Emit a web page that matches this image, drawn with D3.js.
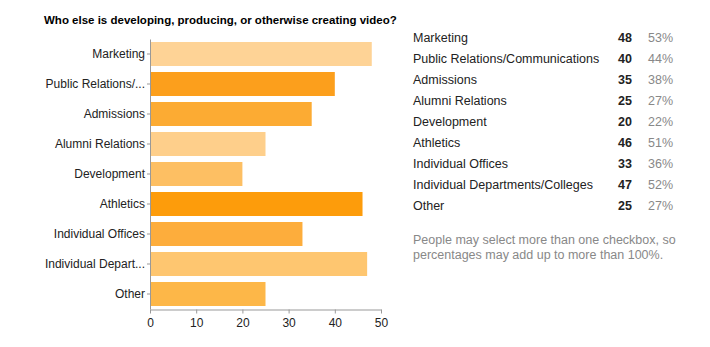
<!DOCTYPE html>
<html><head><meta charset="utf-8">
<script src="https://cdn.jsdelivr.net/npm/d3@7"></script>
<style>body{margin:0;background:#fff}svg{display:block}</style>
</head><body>
<script>
const title = "Who else is developing, producing, or otherwise creating video?";
const categories = ["Marketing","Public Relations/Communications","Admissions","Alumni Relations","Development","Athletics","Individual Offices","Individual Departments/Colleges","Other"];
const axisLabels = ["Marketing","Public Relations/...","Admissions","Alumni Relations","Development","Athletics","Individual Offices","Individual Depart...","Other"];
const counts = [48,40,35,25,20,46,33,47,25];
const percents = ["53%","44%","38%","27%","22%","51%","36%","52%","27%"];
const barColors = ["#fed396","#fc9f1c","#fcab33","#fecf8b","#fdbf63","#fd9c0b","#fdad3c","#fec670","#fdb748"];
const xTicks = [0,10,20,30,40,50];
const note = ["People may select more than one checkbox, so","percentages may add up to more than 100%."];

const W=710,H=347;
const FF="Arial, 'Liberation Sans', sans-serif";
const svg=d3.select("body").append("svg").attr("width",W).attr("height",H)
  .style("font-family",FF);

svg.append("text").attr("x",44).attr("y",24).attr("font-size",11.5).attr("font-weight","bold")
  .attr("fill","#000").text(title);

const x=d3.scaleLinear().domain([0,50]).range([150,381]);
const y=d3.scaleBand().domain(d3.range(categories.length)).range([39,309]).paddingInner(0.2).paddingOuter(0.1);

svg.append("g").selectAll("rect").data(counts).join("rect")
  .attr("x",x(0)).attr("y",(d,i)=>y(i)).attr("width",d=>x(d)-x(0)).attr("height",y.bandwidth())
  .attr("fill",(d,i)=>barColors[i]);

// y axis
const ya=svg.append("g").attr("transform",`translate(${x(0)},0)`)
  .call(d3.axisLeft(y).tickSize(3).tickSizeOuter(0).tickFormat(i=>axisLabels[i]));
ya.select(".domain").attr("stroke","#999");
ya.selectAll(".tick line").attr("stroke","#999");
ya.selectAll(".tick text").attr("font-size",12).attr("fill","#222").attr("font-family",FF).attr("x",-5);

// x axis
const xa=svg.append("g").attr("transform","translate(0,309.5)")
  .call(d3.axisBottom(x).tickValues(xTicks).tickSize(4).tickSizeOuter(0));
xa.select(".domain").attr("stroke","#999");
xa.selectAll(".tick line").attr("stroke","#999");
xa.selectAll(".tick text").attr("font-size",12).attr("fill","#222").attr("font-family",FF).attr("dy","0.9em");

// table
const rowY=d3.scaleLinear().domain([0,1]).range([42,63]);
const tg=svg.append("g").attr("font-size",12.5);
tg.selectAll("text.lab").data(categories).join("text").attr("class","lab")
  .attr("x",413).attr("y",(d,i)=>rowY(i)).attr("fill","#222").text(d=>d);
tg.selectAll("text.cnt").data(counts).join("text").attr("class","cnt")
  .attr("x",632).attr("y",(d,i)=>rowY(i)).attr("text-anchor","end").attr("font-weight","bold").attr("fill","#222").text(d=>d);
tg.selectAll("text.pct").data(percents).join("text").attr("class","pct")
  .attr("x",648).attr("y",(d,i)=>rowY(i)).attr("fill","#888").text(d=>d);
tg.selectAll("text.note").data(note).join("text").attr("class","note")
  .attr("x",413).attr("y",(d,i)=>244+i*15).attr("fill","#888").text(d=>d);
</script>
</body></html>
